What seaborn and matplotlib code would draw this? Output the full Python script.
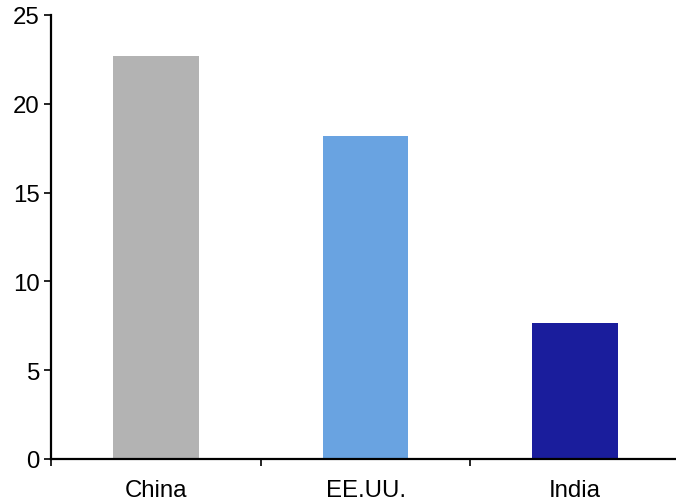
import numpy as np
import pandas as pd
import seaborn as sns
import matplotlib.pyplot as plt
from matplotlib.ticker import FixedLocator

countries = ["China", "EE.UU.", "India"]
values = [22.7, 18.2, 7.65]
bar_colors = ["#b3b3b3", "#69a3e1", "#1a1d9c"]

df = pd.DataFrame({"country": countries, "value": values})

sns.set_theme(style="ticks")
plt.rcParams["font.family"] = ["Liberation Sans", "DejaVu Sans"]

fig = plt.figure(figsize=(6.76, 5.02), dpi=100)
ax = fig.add_axes([51 / 676, 42 / 502, 629 / 676, 444 / 502])

sns.barplot(
    data=df, x="country", y="value", hue="country",
    palette=bar_colors, width=0.41, saturation=1, legend=False,
    linewidth=0, ax=ax,
)

ax.set_xlim(-0.5, 2.5)
ax.set_ylim(0, 25)
ax.set_yticks([0, 5, 10, 15, 20, 25])
ax.set_xlabel("")
ax.set_ylabel("")

# category labels centred, tick marks between categories
ax.xaxis.set_minor_locator(FixedLocator([-0.5, 0.5, 1.5]))
ax.tick_params(axis="x", which="major", length=0, pad=14.5, labelsize=17.3, colors="black")
ax.tick_params(axis="x", which="minor", length=5, width=1.2, color="black", direction="out")
ax.tick_params(axis="y", length=5, width=1.2, pad=3, labelsize=17.3, colors="black")

for side in ["top", "right"]:
    ax.spines[side].set_visible(False)
for side in ["left", "bottom"]:
    ax.spines[side].set_linewidth(1.6)
    ax.spines[side].set_color("black")

fig.savefig("out.png", dpi=100)
